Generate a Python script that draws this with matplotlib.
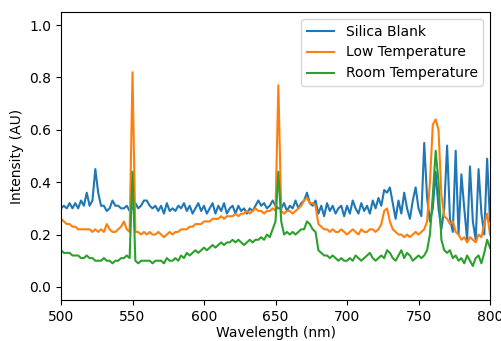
import numpy as np
import matplotlib
matplotlib.use("Agg")
import matplotlib.pyplot as plt

# wavelength grid, 2 nm steps
wavelength = np.arange(500, 802, 2)

silica_blank = [
    .30, .31, .30, .32, .30, .32, .30, .33, .31, .36,
    .31, .33, .45, .36, .31, .31, .29, .30, .33, .31,
    .31, .30, .30, .31, .29, .30, .32, .30, .31, .33,
    .33, .31, .30, .31, .29, .31, .28, .32, .29, .30,
    .29, .31, .30, .32, .29, .31, .28, .30, .32, .29,
    .31, .28, .30, .32, .28, .31, .29, .32, .28, .30,
    .31, .28, .31, .29, .30, .28, .30, .29, .31, .33,
    .31, .32, .30, .31, .33, .31, .30, .30, .32, .29,
    .31, .30, .33, .30, .32, .33, .36, .32, .31, .33,
    .28, .31, .27, .32, .29, .31, .28, .30, .31, .27,
    .31, .28, .33, .30, .28, .32, .29, .31, .28, .33,
    .30, .34, .31, .37, .36, .38, .32, .26, .33, .28,
    .36, .30, .26, .33, .38, .30, .27, .55, .34, .25,
    .30, .44, .30, .22, .30, .54, .26, .21, .52, .20,
    .43, .30, .18, .46, .25, .18, .45, .28, .20, .49,
    .25,
]

low_temp = [
    .26, .25, .24, .24, .23, .23, .22, .22, .22, .22,
    .22, .21, .22, .21, .22, .21, .24, .22, .21, .21,
    .22, .23, .25, .22, .21, .82, .21, .21, .20, .21,
    .20, .21, .20, .20, .21, .20, .19, .20, .21, .20,
    .21, .21, .22, .22, .22, .23, .23, .24, .24, .24,
    .25, .25, .25, .26, .26, .26, .27, .26, .27, .27,
    .27, .28, .27, .28, .28, .29, .28, .29, .30, .29,
    .29, .28, .29, .29, .30, .29, .77, .29, .28, .29,
    .29, .28, .29, .30, .31, .33, .34, .32, .32, .31,
    .24, .23, .22, .22, .21, .22, .21, .21, .22, .21,
    .20, .21, .22, .21, .20, .22, .21, .21, .22, .22,
    .21, .22, .24, .29, .30, .25, .22, .21, .20, .20,
    .19, .20, .19, .20, .21, .20, .21, .22, .25, .40,
    .62, .64, .60, .35, .27, .26, .24, .25, .21, .20,
    .18, .19, .17, .19, .18, .17, .20, .19, .24, .28,
    .20,
]

room_temp = [
    .14, .13, .13, .13, .12, .12, .12, .11, .11, .12,
    .11, .11, .10, .10, .10, .11, .10, .10, .09, .10,
    .10, .11, .11, .12, .11, .44, .10, .09, .10, .10,
    .10, .10, .09, .10, .10, .10, .09, .11, .10, .10,
    .11, .10, .12, .11, .13, .12, .13, .14, .13, .14,
    .15, .14, .15, .16, .15, .16, .17, .16, .17, .17,
    .18, .17, .18, .17, .16, .17, .18, .17, .18, .18,
    .19, .18, .20, .19, .22, .25, .44, .25, .20, .21,
    .20, .21, .20, .21, .22, .22, .25, .24, .22, .21,
    .14, .13, .12, .12, .11, .12, .11, .10, .11, .10,
    .10, .11, .10, .12, .11, .10, .11, .12, .13, .11,
    .10, .11, .12, .11, .14, .13, .11, .10, .12, .14,
    .11, .13, .12, .10, .11, .12, .11, .12, .14, .20,
    .35, .52, .40, .18, .14, .13, .14, .11, .12, .10,
    .11, .09, .12, .10, .08, .11, .12, .09, .13, .18,
    .15,
]

fig = plt.figure(figsize=(5.01, 3.41), dpi=100)
ax = fig.add_axes([61 / 501, 1 - 300 / 341, 429 / 501, 288 / 341])

ax.plot(wavelength, silica_blank, label="Silica Blank")
ax.plot(wavelength, low_temp, label="Low Temperature")
ax.plot(wavelength, room_temp, label="Room Temperature")

ax.set_xlim(500, 800)
ax.set_ylim(-0.05, 1.05)
ax.set_xlabel("Wavelength (nm)", labelpad=2)
ax.set_ylabel("Intensity (AU)")
ax.legend(loc="upper right")

fig.savefig("out.png", dpi=100)
